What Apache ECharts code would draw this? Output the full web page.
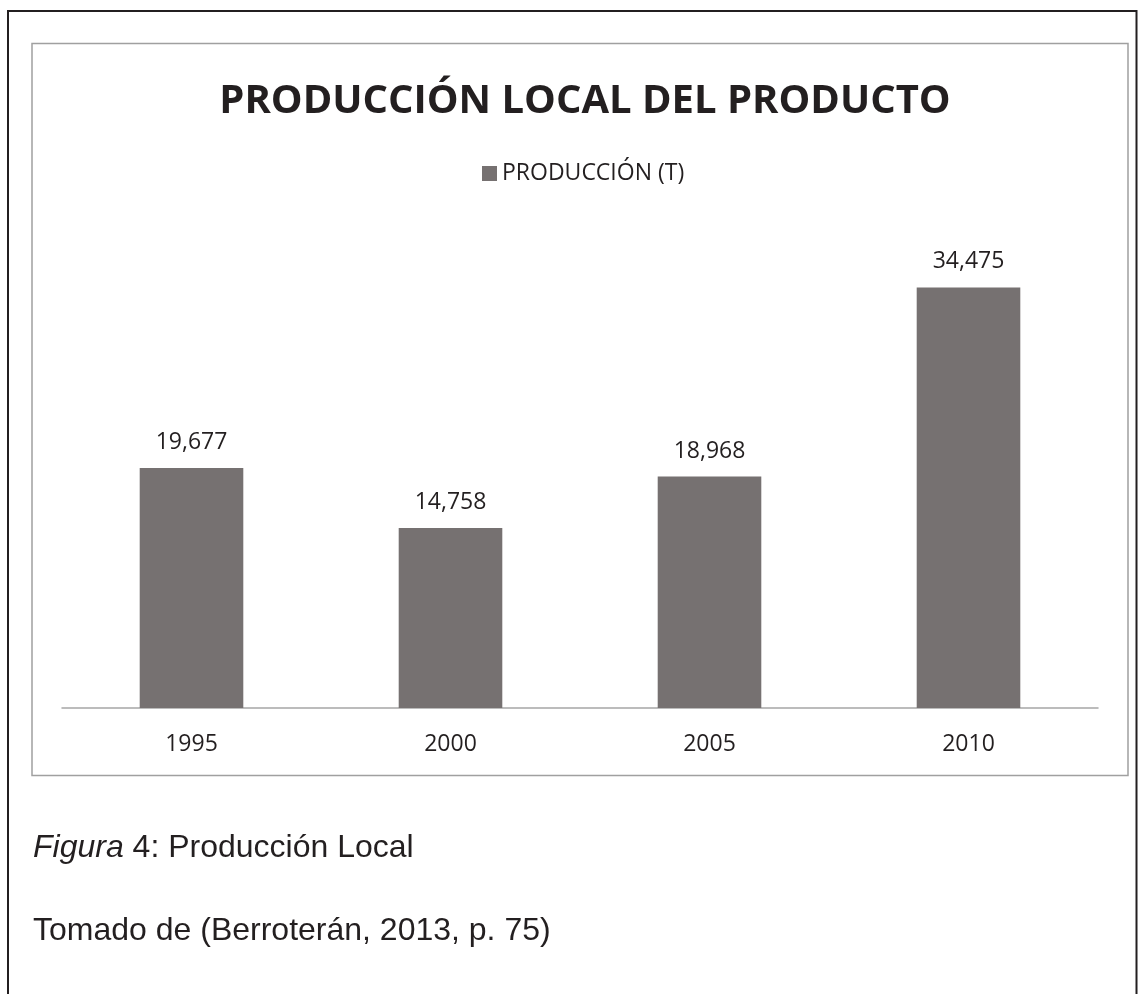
<!DOCTYPE html>
<html>
<head>
<meta charset="utf-8">
<style>
  html, body { margin: 0; padding: 0; background: #fff; }
  #chart { width: 1138px; height: 994px; }
</style>
<script src="https://cdn.jsdelivr.net/npm/echarts@6/dist/echarts.min.js"></script>
</head>
<body>
<div id="chart"></div>
<script>
  // datos
  const years = ['1995', '2000', '2005', '2010']
  const produccion = [19677, 14758, 18968, 34475]

  const textColor = '#231f20'
  const barColor = '#767171'

  const chart = echarts.init(document.getElementById('chart'))

  chart.setOption({
    backgroundColor: '#fff',
    animation: false,
    title: {
      text: 'PRODUCCIÓN LOCAL DEL PRODUCTO',
      left: 580,
      textAlign: 'center',
      top: 77,
      textStyle: {
        fontFamily: 'Open Sans',
        fontWeight: 'bold',
        fontSize: 40,
        color: textColor
      }
    },
    legend: {
      top: 157,
      left: 477,
      itemWidth: 15,
      itemHeight: 15,
      itemGap: 6,
      icon: 'rect',
      textStyle: {
        fontFamily: 'Open Sans',
        fontSize: 23,
        color: textColor
      },
      data: ['PRODUCCIÓN (T)']
    },
    grid: {
      left: 62,
      right: 40,
      top: 220,
      bottom: 286
    },
    xAxis: {
      type: 'category',
      data: years,
      axisTick: { show: false },
      axisLine: { lineStyle: { color: '#a6a6a6', width: 1.5 } },
      axisLabel: {
        margin: 25,
        fontFamily: 'Open Sans',
        fontSize: 23,
        color: textColor
      }
    },
    yAxis: {
      type: 'value',
      min: 0,
      max: 40000,
      show: false
    },
    series: [{
      name: 'PRODUCCIÓN (T)',
      type: 'bar',
      data: produccion,
      barWidth: '40%',
      itemStyle: { color: barColor },
      label: {
        show: true,
        position: 'top',
        distance: 14,
        fontFamily: 'Open Sans',
        fontSize: 23,
        color: textColor,
        formatter: p => p.value.toLocaleString('en-US')
      }
    }],
    graphic: [
      // marco exterior de la página
      {
        type: 'polyline',
        shape: { points: [[8, 994], [8, 11], [1136.5, 11], [1136.5, 994]] },
        style: { stroke: '#231f20', lineWidth: 2, fill: null }
      },
      // marco del gráfico
      {
        type: 'rect',
        shape: { x: 32, y: 43.5, width: 1096, height: 732 },
        style: { stroke: '#a0a0a0', lineWidth: 1.5, fill: null }
      },
      {
        type: 'text',
        x: 33,
        y: 848,
        style: {
          text: '{i|Figura} 4: Producción Local',
          fontFamily: 'Liberation Sans',
          fontSize: 32,
          fill: textColor,
          verticalAlign: 'middle',
          rich: {
            i: { fontFamily: 'Liberation Sans', fontStyle: 'italic', fontSize: 32, color: textColor }
          }
        }
      },
      {
        type: 'text',
        x: 33,
        y: 931,
        style: {
          text: 'Tomado de (Berroterán, 2013, p. 75)',
          fontFamily: 'Liberation Sans',
          fontSize: 32,
          fill: textColor,
          verticalAlign: 'middle'
        }
      }
    ]
  })
</script>
</body>
</html>
